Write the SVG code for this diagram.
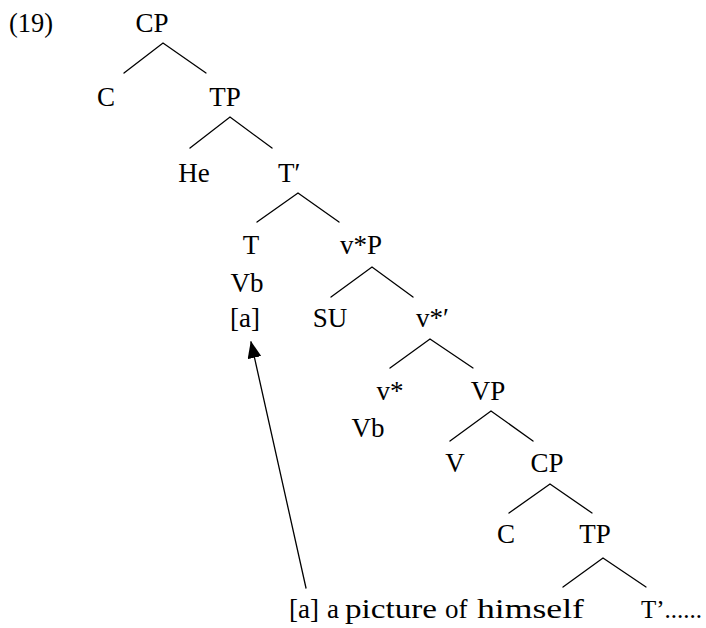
<svg xmlns="http://www.w3.org/2000/svg" width="706" height="628" viewBox="0 0 706 628">
<style>
text{font-family:"Liberation Serif","Times New Roman",serif;font-size:27px;fill:#000}
.m{text-anchor:middle}
.e{stroke:#000;stroke-width:1.3;fill:none;stroke-linecap:round}
</style>
<defs>
<marker id="ah" viewBox="0 0 17 14" refX="16" refY="7" markerWidth="17" markerHeight="14" markerUnits="userSpaceOnUse" orient="auto">
<path d="M0,0 L17,7 L0,14 z" fill="#000"/>
</marker>
</defs>
<rect width="706" height="628" fill="#fff"/>
<text id="label19" x="9" y="32" textLength="44" lengthAdjust="spacingAndGlyphs">(19)</text>
<g id="connectors" class="e">
<path d="M124,73 L163,43 L206,73"/>
<path d="M190,148 L230,117 L272,148"/>
<path d="M257,222 L298,193 L339,222"/>
<path d="M331,297 L372,267 L413,297"/>
<path d="M390,368 L430,339 L473,368"/>
<path d="M450,441 L491,411 L533,441"/>
<path d="M509,513 L550,484 L592,513"/>
<path d="M563,587 L603,558 L646,587"/>
<path d="M306,588 L251,342" marker-end="url(#ah)"/>
</g>
<g id="n-CP1"><text class="m" x="152" y="32">CP</text></g>
<g id="n-C1"><text class="m" x="106" y="106">C</text></g>
<g id="n-TP1"><text class="m" x="225" y="106">TP</text></g>
<g id="n-He"><text class="m" x="194" y="182">He</text></g>
<g id="n-Tbar"><text x="278" y="182">T′</text></g>
<g id="n-T"><text class="m" x="251" y="254">T</text><text class="m" x="247" y="292">Vb</text><text class="m" x="245" y="327">[a]</text></g>
<g id="n-vP"><text class="m" x="361" y="254">v*P</text></g>
<g id="n-SU"><text class="m" x="330" y="327">SU</text></g>
<g id="n-vbar"><text x="416" y="327">v*′</text></g>
<g id="n-v"><text class="m" x="390" y="400">v*</text><text class="m" x="368" y="437">Vb</text></g>
<g id="n-VP"><text class="m" x="488" y="400">VP</text></g>
<g id="n-V"><text class="m" x="455" y="472">V</text></g>
<g id="n-CP2"><text class="m" x="547" y="472">CP</text></g>
<g id="n-C2"><text class="m" x="506" y="543">C</text></g>
<g id="n-TP2"><text class="m" x="595" y="543">TP</text></g>
<g id="n-obj">
<text x="289" y="618">[a]</text>
<text x="327" y="618">a</text>
<text x="345" y="618" textLength="92" lengthAdjust="spacingAndGlyphs">picture</text>
<text x="445" y="618">of</text>
<text x="477" y="618" textLength="107" lengthAdjust="spacingAndGlyphs">himself</text>
</g>
<g id="n-Tbar2"><text x="641" y="618" style="font-size:25px">T’......</text></g>
</svg>
